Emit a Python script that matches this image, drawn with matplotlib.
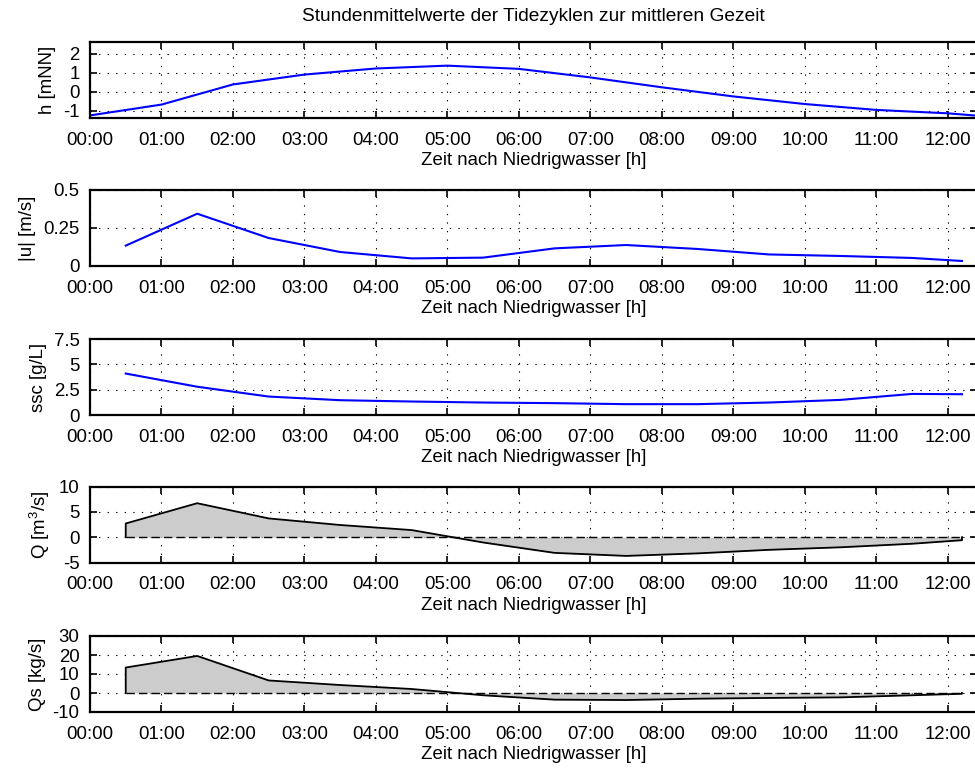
import numpy as np
import matplotlib.pyplot as plt

plt.rcParams['font.family'] = ['Liberation Sans', 'DejaVu Sans']
plt.rcParams['font.size'] = 13.4
plt.rcParams['mathtext.default'] = 'regular'

# -----------------------------
# data
# -----------------------------
# water level at full hours after low water
t_h = [0, 1, 2, 3, 4, 5, 6, 7, 8, 9, 10, 11, 12, 12.5]
h = [-1.25, -0.68, 0.38, 0.90, 1.22, 1.37, 1.20, 0.75, 0.23, -0.25, -0.65, -0.96, -1.14, -1.29]

# hourly means at half hours
t_m = [0.5, 1.5, 2.5, 3.5, 4.5, 5.5, 6.5, 7.5, 8.5, 9.5, 10.5, 11.5, 12.2]
u = [0.134, 0.344, 0.184, 0.092, 0.050, 0.055, 0.116, 0.138, 0.112, 0.076, 0.066, 0.053, 0.033]
ssc = [4.09, 2.79, 1.82, 1.46, 1.33, 1.23, 1.17, 1.07, 1.07, 1.23, 1.49, 2.08, 2.05]
Q = [2.7, 6.7, 3.7, 2.4, 1.4, -1.05, -3.1, -3.7, -3.2, -2.5, -2.0, -1.3, -0.6]
Qs = [13.4, 19.5, 6.6, 4.2, 2.1, -1.2, -3.5, -3.7, -3.0, -2.6, -2.3, -1.2, -0.4]

hour_ticks = list(range(13))
hour_labels = ['%02d:00' % k for k in hour_ticks]

panels = [
    ('h [mNN]', [-1, 0, 1, 2], ['-1', '0', '1', '2'], (-1.37, 2.63)),
    ('|u| [m/s]', [0, 0.25, 0.5], ['0', '0.25', '0.5'], (0, 0.5)),
    ('ssc [g/L]', [0, 2.5, 5, 7.5], ['0', '2.5', '5', '7.5'], (0, 7.5)),
    ('Q [m$^3$/s]', [-5, 0, 5, 10], ['-5', '0', '5', '10'], (-5, 10)),
    ('Qs [kg/s]', [-10, 0, 10, 20, 30], ['-10', '0', '10', '20', '30'], (-10, 30)),
]

W, H = 975, 769
left, right = 90, 977
tops = [41.7, 190, 339, 486.5, 636]
ax_h = 76

fig = plt.figure(figsize=(W / 100, H / 100), dpi=100)
axes = []
for top, (ylab, yt, ytl, ylim) in zip(tops, panels):
    ax = fig.add_axes([left / W, 1 - (top + ax_h) / H, (right - left) / W, ax_h / H])
    ax.set_xlim(0, 12.41)
    ax.set_ylim(*ylim)
    ax.set_xticks(hour_ticks)
    ax.set_xticklabels(hour_labels)
    ax.set_yticks(yt)
    ax.set_yticklabels(ytl)
    ax.tick_params(direction='in', top=True, right=True, length=5, width=1.2, pad=7.5)
    ax.tick_params(axis='x', pad=10)
    ax.grid(True, linestyle=(0, (1.2, 6.5)), color='k', linewidth=0.8)
    for s in ax.spines.values():
        s.set_linewidth(1.6)
    ax.set_xlabel('Zeit nach Niedrigwasser [h]', labelpad=2.5)
    ax.set_ylabel(ylab, labelpad=5)
    axes.append(ax)

axes[0].set_title('Stundenmittelwerte der Tidezyklen zur mittleren Gezeit', fontsize=13.8, pad=15)

# lines
axes[0].plot(t_h, h, color='#0000ff', lw=1.5)
axes[1].plot(t_m, u, color='#0000ff', lw=1.5)
axes[2].plot(t_m, ssc, color='#0000ff', lw=1.5)

# filled transport curves
for ax, vals in [(axes[3], Q), (axes[4], Qs)]:
    tt = np.array(t_m)
    vv = np.array(vals)
    ax.fill_between(tt, vv, 0, color='#cccccc', lw=0, zorder=2)
    ax.plot(np.r_[tt[0], tt, tt[-1]], np.r_[0, vv, 0], color='k', lw=1.3, zorder=3)
    ax.plot([tt[0], tt[-1]], [0, 0], color='k', lw=1.0, ls=(0, (6, 3)), zorder=3)

fig.savefig('out.png', dpi=100)
